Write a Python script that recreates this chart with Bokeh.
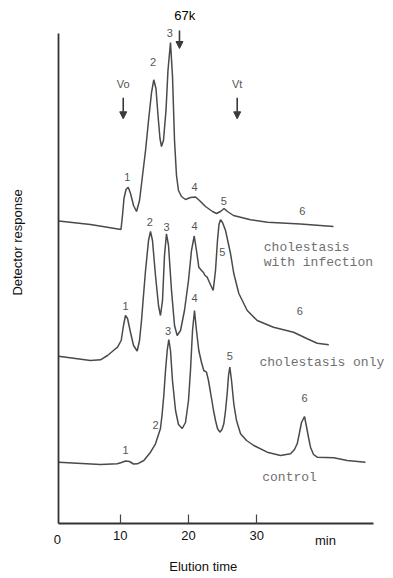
import math
from bokeh.plotting import figure
from bokeh.models import ColumnDataSource, Arrow, NormalHead, FixedTicker, Range1d, LinearAxis
from bokeh.core.properties import value
from bokeh.embed import file_html
from bokeh.resources import INLINE

# ---- data: elution time (min) vs detector response (arbitrary units) ----
infect_t = [0.95, 5.63, 10.10, 10.32, 10.54, 10.84, 11.16, 11.50, 11.94, 12.38, 12.82, 13.26, 13.70,
            14.14, 14.58, 14.91, 15.23, 15.53, 15.82, 16.04, 16.33, 16.70, 16.99, 17.36, 17.65, 17.95,
            18.24, 18.53, 18.97, 19.56, 20.29, 21.03, 21.61, 22.49, 23.52, 24.11, 24.69, 25.21, 25.72,
            26.60, 29.09, 31.58, 36.42, 41.26]
infect_r = [302.5, 299, 294, 308, 325, 334, 336.3, 330, 318, 312, 323, 348, 373,
            403, 431, 443.7, 435, 408, 385, 377, 383, 413, 453, 481, 448, 383,
            348, 333, 327, 324, 326, 326.5, 323, 317, 312, 310, 312, 315, 312,
            308, 303.7, 301.3, 299.5, 297]

chol_t = [0.95, 5.63, 7.10, 8.12, 9.00, 9.59, 10.13, 10.47, 10.76, 11.06, 11.50, 11.94, 12.48,
          12.82, 13.11, 13.40, 13.70, 14.14, 14.43, 14.72, 15.16, 15.60, 15.89, 16.19, 16.48, 16.77,
          17.07, 17.51, 17.95, 18.34, 18.83, 19.41, 20.00, 20.44, 20.84, 21.17, 21.51, 21.91, 22.16,
          22.42, 22.74, 23.08, 23.62, 23.96, 24.25, 24.47, 24.69, 24.99, 25.43, 26.16, 26.64, 27.38,
          28.61, 30.07, 32.46, 35.40, 37.41, 38.87, 40.57]
chol_r = [167.3, 163, 163.7, 168, 173, 176.3, 183, 198, 208, 205, 191, 178, 172.5,
          183, 203, 228, 253, 283, 292, 283, 248, 218, 208, 223, 268, 289.7,
          278, 233, 198, 188, 193, 213, 243, 273, 287.5, 273, 256.3, 253, 251.3,
          248, 246.3, 241, 233, 253, 283, 299, 303.7, 301, 293, 270, 250, 230,
          213, 203, 196.3, 191.3, 184.7, 180.3, 178.7]

ctrl_t = [0.95, 7.10, 9.55, 10.18, 10.76, 11.35, 11.94, 12.52, 13.45, 14.43, 15.16, 15.65, 15.89,
          16.14, 16.38, 16.63, 16.88, 17.11, 17.36, 17.65, 18.10, 18.53, 19.08, 19.56, 20.00, 20.29,
          20.59, 20.88, 21.17, 21.51, 21.91, 22.24, 22.64, 22.93, 23.23, 23.67, 23.96, 24.25, 24.59,
          24.91, 25.18, 25.43, 25.67, 25.87, 26.06, 26.31, 26.64, 27.04, 27.63, 28.51, 29.58, 31.54,
          33.49, 34.96, 35.54, 35.94, 36.28, 36.57, 37.01, 37.30, 37.60, 37.89, 38.33, 38.87, 41.31,
          43.27, 45.95]
ctrl_r = [61.3, 59, 59.7, 61, 62.5, 62, 59.5, 59.7, 63, 71.3, 79.7, 90, 95,
          109.7, 128, 153, 173, 184, 173, 143, 113, 99, 95, 101, 123, 153,
          193, 213, 193, 173, 161, 153, 151.3, 143, 131, 113, 103, 95, 91.3,
          94, 99.7, 113, 129.7, 148, 156.3, 143, 119.7, 103, 89.7, 83, 78, 71.3,
          68, 69.7, 74, 79.7, 91, 101, 107, 97, 86, 76.3, 69, 66.3, 65.7,
          63, 61.3]

# peak numbers
peak_text = ["1", "2", "3", "4", "5", "6"] * 3
peak_t = [11.01, 14.82, 17.26, 20.88, 25.18, 36.67,
          10.76, 14.33, 16.77, 20.88, 24.94, 36.32,
          10.76, 15.16, 17.02, 20.88, 26.06, 37.01]
peak_r = [347, 461.3, 490.3, 337, 323, 313,
          218, 301.3, 297, 298, 271.3, 213,
          73.7, 99, 193, 225.7, 168, 125.7]

# series names
series_names = ["cholestasis", "with infection", "cholestasis only", "control"]
series_t = [31.04, 31.04, 30.40, 30.81]
series_r = [276.3, 261.3, 161.3, 46.3]

# volume markers
marker_names = ["Vo", "Vt"]
marker_t = [10.43, 27.14]
marker_r = [439.7, 439.7]
mw_name = "67k"
mw_t = 18.68
mw_r = 493

x_ticks = [10, 20, 30]
x_axis_bounds = (0.94, 47.12)
y_axis_bounds = (0, 490)

LINE = "#4a4a4a"
GRAY = "#555555"

p = figure(width=393, height=576, output_backend="svg", toolbar_location=None,
           x_range=Range1d(-7.566, 50.059), y_range=Range1d(-53, 523),
           min_border=0, x_axis_type=None, y_axis_type=None)
p.outline_line_color = None
p.background_fill_color = "white"
p.border_fill_color = "white"

for t, r in [(infect_t, infect_r), (chol_t, chol_r), (ctrl_t, ctrl_r)]:
    p.line(t, r, line_color=LINE, line_width=1.5)

# axes at fixed data locations
xax = LinearAxis(fixed_location=0, bounds=x_axis_bounds, ticker=FixedTicker(ticks=x_ticks),
                 major_tick_in=9, major_tick_out=0, minor_tick_line_color=None,
                 major_tick_line_color="#444444", major_tick_line_width=1.2,
                 axis_line_color="#333333", axis_line_width=1.8,
                 major_label_standoff=7, major_label_text_font="Liberation Sans",
                 major_label_text_font_size="13px", major_label_text_color="#111111")
p.add_layout(xax, "below")
yax = LinearAxis(fixed_location=x_axis_bounds[0], bounds=y_axis_bounds, ticker=FixedTicker(ticks=[]),
                 major_tick_line_color=None, minor_tick_line_color=None,
                 axis_line_color="#333333", axis_line_width=1.8)
p.add_layout(yax, "left")

def txt(x, y, text, size="13px", color="#111111", font="Liberation Sans", align="center", angle=0.0):
    p.text(x=[x], y=[y], text=[text], text_font=value(font), text_font_size=value(size),
           text_color=color, text_align=align, text_baseline="middle", angle=angle)

txt(0.79, -16, "0")
txt(40.09, -17, "min")
txt(22.16, -43, "Elution time")
txt(-5.07, 281, "Detector response", angle=math.pi / 2)
txt(19.46, 508, mw_name, color="#000000")

head = dict(size=7, fill_color="#3a3a3a", line_color="#3a3a3a")
for name, t, r in zip(marker_names, marker_t, marker_r):
    txt(t, r, name, size="11px", color=GRAY)
    p.add_layout(Arrow(x_start=t, y_start=r - 14, x_end=t, y_end=r - 35,
                       line_color="#3a3a3a", line_width=1.6, end=NormalHead(**head)))
p.add_layout(Arrow(x_start=mw_t, y_start=mw_r, x_end=mw_t, y_end=mw_r - 18,
                   line_color="#3a3a3a", line_width=1.6, end=NormalHead(**head)))

src = ColumnDataSource(dict(x=peak_t, y=peak_r, text=peak_text))
p.text(x="x", y="y", text="text", source=src, text_align="center", text_baseline="middle",
       text_font=value("Liberation Sans"), text_font_size=value("11px"), text_color=GRAY)

src2 = ColumnDataSource(dict(x=series_t, y=series_r, text=series_names))
p.text(x="x", y="y", text="text", source=src2, text_align="left", text_baseline="middle",
       text_font=value("Liberation Mono"), text_font_size=value("13px"), text_color="#707070")

open("out.html", "w").write(file_html(p, INLINE))
